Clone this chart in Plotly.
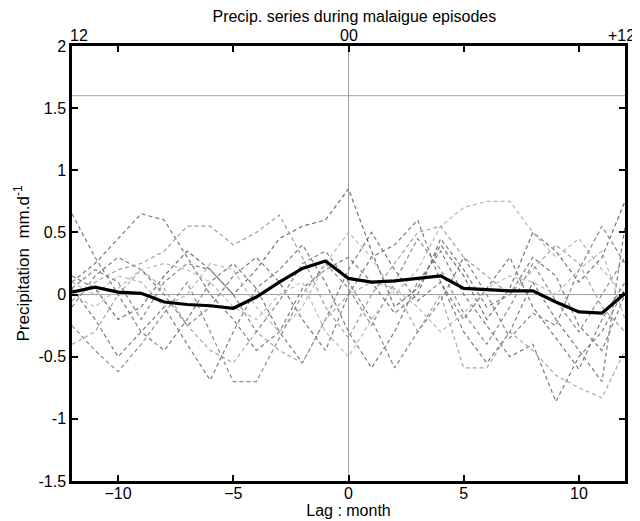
import plotly.graph_objects as go

# Lag in months, -12 .. +12
lag = list(range(-12, 13))

# mean precipitation anomaly (thick black line)
mean_precip = [0.02, 0.06, 0.02, 0.01, -0.06, -0.08, -0.09, -0.11, -0.02, 0.10, 0.21, 0.27,
               0.13, 0.10, 0.11, 0.13, 0.15, 0.05, 0.04, 0.03, 0.03, -0.06, -0.14, -0.15, 0.01]

# individual episodes (dashed grey lines)
ep_a = [0.10, 0.25, 0.45, 0.65, 0.60, 0.30, 0.00, -0.20, -0.45, -0.30, 0.05, 0.20, 0.30,
        0.10, -0.15, 0.00, 0.45, 0.20, -0.10, 0.00, 0.30, 0.15, -0.25, -0.45, 0.00]
ep_b = [0.65, 0.30, 0.00, -0.30, -0.45, -0.20, 0.10, 0.25, 0.05, -0.30, -0.55, -0.20, 0.20,
        0.50, 0.20, -0.05, 0.10, -0.30, -0.55, -0.30, 0.10, -0.20, -0.45, -0.70, 0.55]
ep_c = [0.15, 0.05, -0.20, -0.10, 0.15, 0.35, 0.20, 0.00, 0.20, 0.45, 0.55, 0.60, 0.85,
        0.35, -0.10, 0.05, 0.40, 0.15, -0.20, 0.05, 0.50, 0.35, 0.10, 0.30, 0.75]
ep_d = [-0.25, -0.45, -0.62, -0.40, -0.15, 0.10, -0.30, -0.70, -0.70, -0.35, 0.00, 0.25, 0.05,
        -0.25, 0.10, 0.45, 0.20, -0.15, -0.40, -0.10, 0.25, -0.05, -0.30, 0.00, 0.30]
ep_e = [0.05, -0.20, -0.50, -0.30, -0.10, -0.40, -0.69, -0.30, 0.05, 0.20, 0.40, 0.10, -0.30,
        -0.59, -0.30, 0.10, 0.35, 0.00, -0.25, -0.50, -0.40, -0.86, -0.50, -0.30, 0.05]
ep_f = [-0.05, 0.10, 0.20, 0.25, 0.35, 0.55, 0.55, 0.40, 0.50, 0.64, 0.30, -0.10, -0.35,
        0.00, 0.25, 0.50, 0.55, 0.30, 0.15, 0.00, 0.20, 0.40, 0.25, -0.10, -0.30]
ep_g = [0.10, 0.00, 0.15, 0.10, -0.10, 0.00, 0.25, 0.20, -0.10, -0.30, -0.10, 0.25, 0.50,
        0.30, 0.00, 0.20, 0.55, 0.70, 0.75, 0.75, 0.50, 0.30, 0.45, 0.20, 0.00]
ep_h = [-0.40, -0.30, 0.00, 0.20, 0.05, -0.25, -0.45, -0.55, -0.30, -0.45, -0.55, -0.20, 0.00,
        0.10, 0.05, -0.30, 0.00, -0.59, -0.59, -0.30, -0.45, -0.65, -0.75, -0.83, -0.45]
ep_i = [0.05, 0.20, 0.10, -0.20, 0.10, 0.25, 0.20, 0.00, -0.30, -0.05, 0.25, 0.35, 0.10,
        -0.20, -0.59, -0.30, -0.05, 0.30, 0.00, -0.35, -0.15, -0.25, 0.20, 0.55, 0.25]
ep_j = [-0.10, 0.15, 0.30, 0.20, 0.00, -0.25, -0.10, 0.15, 0.30, 0.10, -0.20, -0.45, 0.00,
        0.30, 0.40, 0.60, 0.10, -0.20, 0.05, 0.30, -0.10, -0.35, -0.60, -0.20, 0.10]
ep_k = [0.00, -0.10, 0.05, 0.20, 0.25, 0.20, 0.10, -0.10, -0.20, 0.00, 0.10, -0.30, -0.50,
        -0.20, 0.05, -0.10, -0.30, -0.15, 0.05, 0.15, 0.10, 0.00, 0.20, 0.35, -0.20]

episodes = [ep_a, ep_b, ep_c, ep_d, ep_e, ep_f, ep_g, ep_h, ep_i, ep_j, ep_k]
ep_colors = ["#7c7c7c", "#7c7c7c", "#707070", "#8c8c8c", "#7c7c7c", "#a0a0a0",
             "#b8b8b8", "#a8a8a8", "#848484", "#7c7c7c", "#bcbcbc"]

top_ticks = [-12, 0, 12]
top_labels = ["12", "00", "+12"]

FONT = "Arial, Liberation Sans, sans-serif"

fig = go.Figure()

for ys, c in zip(episodes, ep_colors):
    fig.add_trace(go.Scatter(x=lag, y=ys, mode="lines",
                             line=dict(color=c, width=1.2, dash="4px,3px"),
                             showlegend=False, hoverinfo="skip"))

fig.add_trace(go.Scatter(x=lag, y=mean_precip, mode="lines",
                         line=dict(color="black", width=3.2), showlegend=False))

# reference lines
fig.add_hline(y=1.6, line=dict(color="#a0a0a0", width=1), layer="below")
fig.add_hline(y=0, line=dict(color="#a0a0a0", width=1), layer="below")
fig.add_vline(x=0, line=dict(color="#a0a0a0", width=1), layer="below")

# top axis labels
anchors = {-12: ("left", -4), 0: ("center", 0), 12: ("right", 12)}
for xv, txt in zip(top_ticks, top_labels):
    xa, xs = anchors[xv]
    fig.add_annotation(x=xv, y=1, xref="x", yref="paper", yanchor="bottom", yshift=0,
                       xanchor=xa, xshift=xs,
                       text=txt, showarrow=False, font=dict(size=16, color="black"))

# page body has an 8px margin, so the figure is sized to fit the window
fig.update_layout(
    width=632, height=513,
    margin=dict(l=64, r=15, t=38, b=40),
    paper_bgcolor="white", plot_bgcolor="white",
    font=dict(family=FONT, size=16, color="black"),
    title=dict(text="Precip. series during malaigue episodes", x=0.548, xanchor="center",
               y=0.984, yanchor="middle", font=dict(size=16)),
    xaxis=dict(range=[-12, 12], tickvals=[-10, -5, 0, 5, 10], ticks="inside",
               ticklen=6, tickwidth=2, tickcolor="black", showline=True, linewidth=2.5,
               linecolor="black", mirror="ticks", showgrid=False, zeroline=False,
               automargin=False, ticklabelstandoff=-4,
               title=dict(text="Lag : month", standoff=0, font=dict(size=16))),
    yaxis=dict(range=[-1.5, 2], tickvals=[-1.5, -1, -0.5, 0, 0.5, 1, 1.5, 2],
               ticktext=["-1.5", "-1", "-0.5", "0", "0.5", "1", "1.5", "2"],
               ticks="inside", ticklen=6, tickwidth=2, tickcolor="black", showline=True,
               linewidth=2.5, linecolor="black", mirror="ticks", showgrid=False,
               zeroline=False, automargin=False,
               title=dict(text="Precipitation&nbsp;&nbsp;mm.d<sup>-1</sup>", standoff=5,
                          font=dict(size=17))),
)

fig.write_html("out.html")
